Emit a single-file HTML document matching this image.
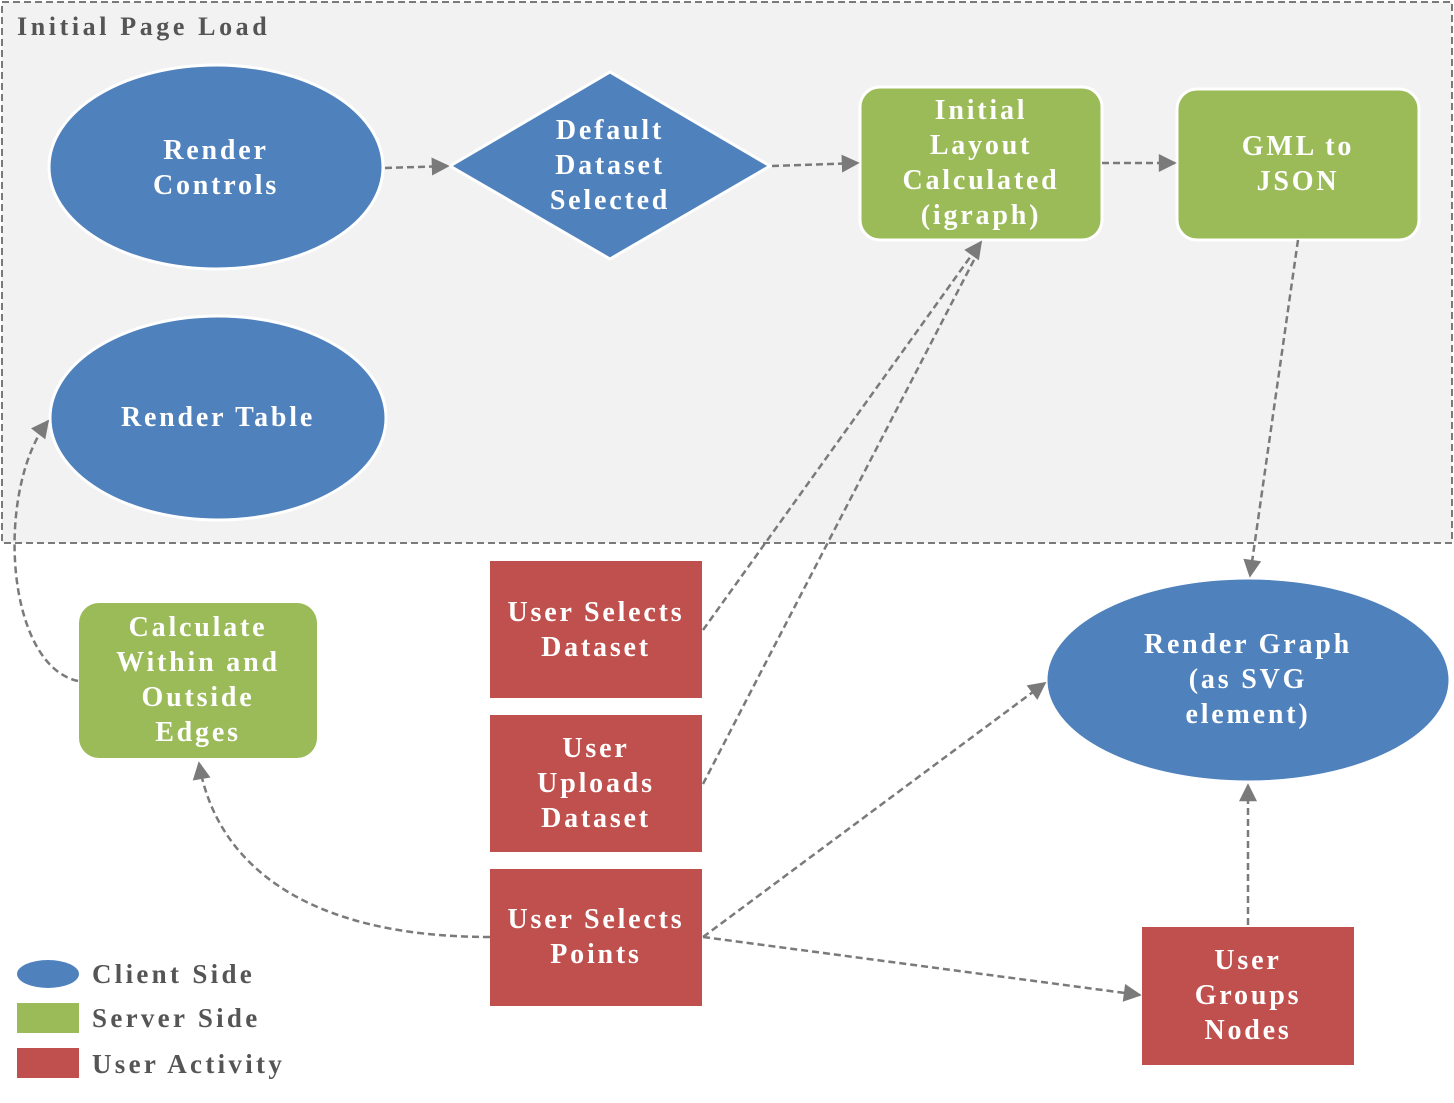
<!DOCTYPE html>
<html><head><meta charset="utf-8"><style>
html,body{margin:0;padding:0;background:#fff}
svg text{font-family:"Liberation Serif",serif;font-weight:bold}
.w{fill:#fff;font-size:28px;text-anchor:middle;letter-spacing:2.8px}
.l{fill:#555;font-size:27px;letter-spacing:3.3px}
.a{fill:none;stroke:#7a7a7a;stroke-width:2.5;stroke-dasharray:7,4}
</style></head><body>
<svg width="1454" height="1098" xmlns="http://www.w3.org/2000/svg">
<defs>
<marker id="h" viewBox="0 0 10 10" refX="9" refY="5" markerWidth="20" markerHeight="18" orient="auto" markerUnits="userSpaceOnUse"><path d="M0,0 L10,5 L0,10 z" fill="#7a7a7a"/></marker></defs>
<rect x="2" y="2" width="1450" height="541" fill="#f2f2f2" stroke="#7a7a7a" stroke-width="2" stroke-dasharray="7,4"/>
<text x="17" y="35" class="l" style="font-size:26px;letter-spacing:3.6px">Initial Page Load</text>

<ellipse cx="216" cy="167" rx="167" ry="102" fill="#4f81bd" stroke="#fff" stroke-width="3"/>
<text class="w" x="216" y="159">Render</text><text class="w" x="216" y="194">Controls</text>
<polygon points="610,72 770,166 610,259 450,166" fill="#4f81bd" stroke="#fff" stroke-width="3"/>
<text class="w" x="610" y="139">Default</text><text class="w" x="610" y="174">Dataset</text><text class="w" x="610" y="209">Selected</text>
<rect x="860" y="87" width="242" height="153" rx="20" fill="#9bbb59" stroke="#fff" stroke-width="3"/>
<text class="w" x="981" y="119">Initial</text><text class="w" x="981" y="154">Layout</text><text class="w" x="981" y="189">Calculated</text><text class="w" x="981" y="224">(igraph)</text>
<rect x="1177" y="89" width="242" height="151" rx="20" fill="#9bbb59" stroke="#fff" stroke-width="3"/>
<text class="w" x="1298" y="155">GML to</text><text class="w" x="1298" y="190">JSON</text>
<ellipse cx="218" cy="418" rx="168" ry="102" fill="#4f81bd" stroke="#fff" stroke-width="3"/>
<text class="w" x="218" y="426">Render Table</text>

<rect x="79" y="603" width="238" height="155" rx="20" fill="#9bbb59"/>
<text class="w" x="198" y="636">Calculate</text><text class="w" x="198" y="671">Within and</text><text class="w" x="198" y="706">Outside</text><text class="w" x="198" y="741">Edges</text>
<rect x="490" y="561" width="212" height="137" fill="#c0504d"/>
<text class="w" x="596" y="621">User Selects</text><text class="w" x="596" y="656">Dataset</text>
<rect x="490" y="715" width="212" height="137" fill="#c0504d"/>
<text class="w" x="596" y="757">User</text><text class="w" x="596" y="792">Uploads</text><text class="w" x="596" y="827">Dataset</text>
<rect x="490" y="869" width="212" height="137" fill="#c0504d"/>
<text class="w" x="596" y="928">User Selects</text><text class="w" x="596" y="963">Points</text>
<rect x="1142" y="927" width="212" height="138" fill="#c0504d"/>
<text class="w" x="1248" y="969">User</text><text class="w" x="1248" y="1004">Groups</text><text class="w" x="1248" y="1039">Nodes</text>
<ellipse cx="1248" cy="680" rx="202" ry="102" fill="#4f81bd" stroke="#fff" stroke-width="3"/>
<text class="w" x="1248" y="653">Render Graph</text><text class="w" x="1248" y="688">(as SVG</text><text class="w" x="1248" y="723">element)</text>

<path class="a" marker-end="url(#h)" d="M385,168 L448,166"/>
<path class="a" marker-end="url(#h)" d="M772,166 L858,163"/>
<path class="a" marker-end="url(#h)" d="M1102,163 L1175,163"/>
<path class="a" marker-end="url(#h)" d="M1298,240 L1250,576"/>
<path class="a" marker-end="url(#h)" d="M703,630 L981,242"/>
<path class="a" d="M703,784 L975,258"/>
<path class="a" marker-end="url(#h)" d="M703,937 L1045,683"/>
<path class="a" marker-end="url(#h)" d="M703,937 L1140,995"/>
<path class="a" marker-end="url(#h)" d="M1248,925 L1248,785"/>
<path class="a" marker-end="url(#h)" d="M490,937 C300,937 215,860 199,763"/>
<path class="a" marker-end="url(#h)" d="M78,681 C5,665 -5,490 48,421"/>

<ellipse cx="48" cy="974" rx="31" ry="14" fill="#4f81bd"/>
<rect x="17" y="1003" width="62" height="30" fill="#9bbb59"/>
<rect x="17" y="1048" width="62" height="30" fill="#c0504d"/>
<text class="l" x="92" y="983">Client Side</text>
<text class="l" x="92" y="1027">Server Side</text>
<text class="l" x="92" y="1073">User Activity</text>
</svg>
</body></html>
